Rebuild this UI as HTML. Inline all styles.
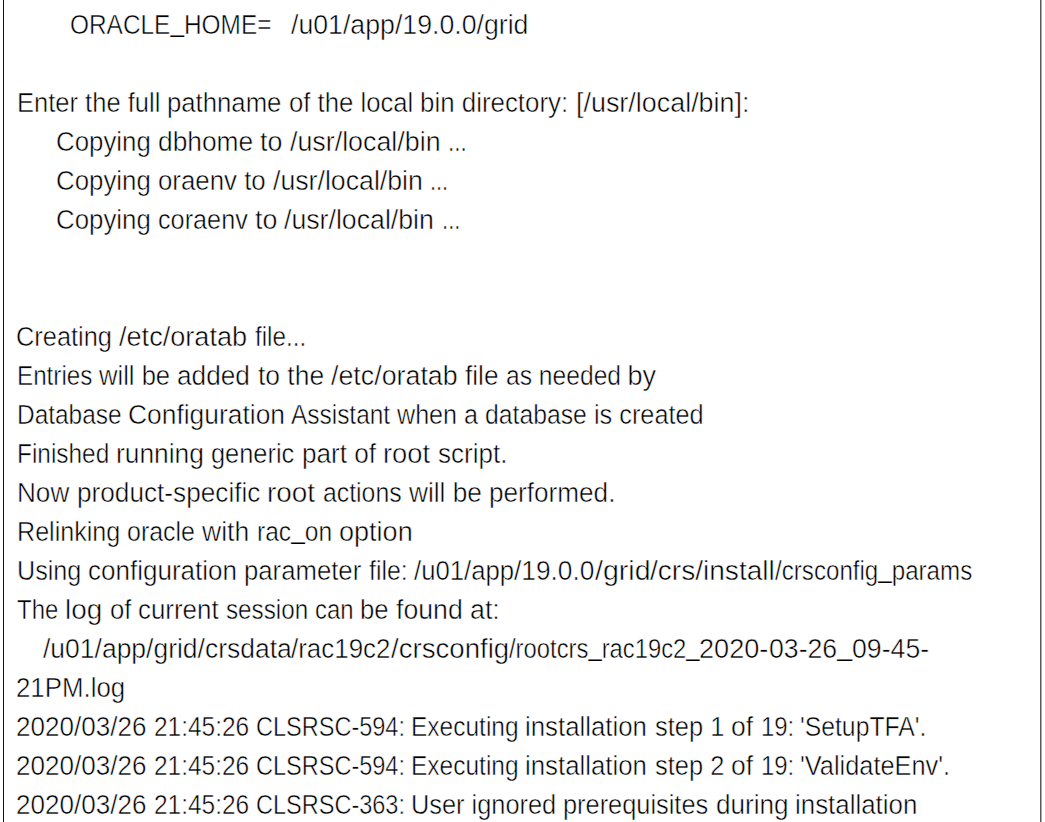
<!DOCTYPE html>
<html><head><meta charset="utf-8"><style>
html,body{margin:0;padding:0;background:#fff;width:1045px;height:822px;overflow:hidden}
body{position:relative;font-family:"Liberation Sans",sans-serif;color:#000;}
span.u{-webkit-text-stroke:0.25px #fff;position:relative;top:-2.5px}
.l{position:absolute;white-space:pre;-webkit-text-stroke:0.5px #fff;font-size:27.0px;line-height:27.0px;transform-origin:0 0;left:0;top:0}
.bl{position:absolute;left:3px;top:0;width:1px;height:822px;background:#111}
.br{position:absolute;left:1040px;top:0;width:1px;height:822px;background:#5a5a5a;box-shadow:1px 0 0 #aaa}
</style></head><body>
<div class="bl"></div><div class="br"></div>
<div class="l" style="left:69.59px;top:11.50px;transform:scaleX(0.9040)">ORACLE<span class="u">_</span>HOME=   </div>
<div class="l" style="left:291.31px;top:11.50px;transform:scaleX(0.9886)">/u01/app/19.0.0/grid</div>
<div class="l" style="left:16.91px;top:89.50px;transform:scaleX(0.9454)">Enter the full </div>
<div class="l" style="left:167.29px;top:89.50px;transform:scaleX(0.9527)">pathname </div>
<div class="l" style="left:288.85px;top:89.50px;transform:scaleX(0.9519)">of the local </div>
<div class="l" style="left:420.28px;top:89.50px;transform:scaleX(0.9588)">bin directory: </div>
<div class="l" style="left:575.61px;top:89.50px;transform:scaleX(0.9964)">[/usr/local/bin]:</div>
<div class="l" style="left:55.79px;top:128.50px;transform:scaleX(0.9566)">Copying </div>
<div class="l" style="left:157.72px;top:128.50px;transform:scaleX(0.9755)">dbhome </div>
<div class="l" style="left:260.21px;top:128.50px;transform:scaleX(0.9923)">to </div>
<div class="l" style="left:290.01px;top:128.50px;transform:scaleX(0.9933)">/usr/local/bin </div>
<div class="l" style="left:448.49px;top:128.50px;transform:scaleX(0.8353)">...</div>
<div class="l" style="left:55.79px;top:167.50px;transform:scaleX(0.9566)">Copying </div>
<div class="l" style="left:157.74px;top:167.50px;transform:scaleX(0.9569)">oraenv to </div>
<div class="l" style="left:272.61px;top:167.50px;transform:scaleX(0.9890)">/usr/local/bin </div>
<div class="l" style="left:430.48px;top:167.50px;transform:scaleX(0.8059)">...</div>
<div class="l" style="left:55.79px;top:206.50px;transform:scaleX(0.9566)">Copying </div>
<div class="l" style="left:157.77px;top:206.50px;transform:scaleX(0.9347)">coraenv </div>
<div class="l" style="left:254.51px;top:206.50px;transform:scaleX(0.9923)">to </div>
<div class="l" style="left:284.31px;top:206.50px;transform:scaleX(0.9890)">/usr/local/bin </div>
<div class="l" style="left:442.15px;top:206.50px;transform:scaleX(0.8176)">...</div>
<div class="l" style="left:16.12px;top:323.50px;transform:scaleX(0.9396)">Creating </div>
<div class="l" style="left:119.00px;top:323.50px;transform:scaleX(1.0037)">/etc/oratab </div>
<div class="l" style="left:254.70px;top:323.50px;transform:scaleX(0.8962)">file...</div>
<div class="l" style="left:17.21px;top:362.50px;transform:scaleX(0.8968)">Entries </div>
<div class="l" style="left:99.25px;top:362.50px;transform:scaleX(0.9475)">will be </div>
<div class="l" style="left:177.43px;top:362.50px;transform:scaleX(0.9698)">added </div>
<div class="l" style="left:257.52px;top:362.50px;transform:scaleX(0.9779)">to the </div>
<div class="l" style="left:330.91px;top:362.50px;transform:scaleX(0.9926)">/etc/oratab </div>
<div class="l" style="left:465.03px;top:362.50px;transform:scaleX(0.9707)">file </div>
<div class="l" style="left:505.89px;top:362.50px;transform:scaleX(0.9122)">as needed </div>
<div class="l" style="left:627.60px;top:362.50px;transform:scaleX(1.0000)">by</div>
<div class="l" style="left:17.19px;top:401.50px;transform:scaleX(0.9050)">Database </div>
<div class="l" style="left:128.44px;top:401.50px;transform:scaleX(0.9775)">Configuration </div>
<div class="l" style="left:291.40px;top:401.50px;transform:scaleX(0.9048)">Assistant </div>
<div class="l" style="left:397.27px;top:401.50px;transform:scaleX(0.9304)">when a </div>
<div class="l" style="left:485.28px;top:401.50px;transform:scaleX(0.9163)">database </div>
<div class="l" style="left:593.93px;top:401.50px;transform:scaleX(0.9363)">is created</div>
<div class="l" style="left:17.19px;top:440.50px;transform:scaleX(0.9036)">Finished </div>
<div class="l" style="left:116.05px;top:440.50px;transform:scaleX(0.9764)">running </div>
<div class="l" style="left:211.36px;top:440.50px;transform:scaleX(0.9406)">generic </div>
<div class="l" style="left:301.66px;top:440.50px;transform:scaleX(0.9685)">part of </div>
<div class="l" style="left:382.98px;top:440.50px;transform:scaleX(1.0107)">root </div>
<div class="l" style="left:437.64px;top:440.50px;transform:scaleX(0.9632)">script.</div>
<div class="l" style="left:17.07px;top:479.50px;transform:scaleX(0.9672)">Now </div>
<div class="l" style="left:76.56px;top:479.50px;transform:scaleX(0.9700)">product-specific </div>
<div class="l" style="left:267.13px;top:479.50px;transform:scaleX(1.0334)">root </div>
<div class="l" style="left:323.08px;top:479.50px;transform:scaleX(0.9187)">actions </div>
<div class="l" style="left:408.53px;top:479.50px;transform:scaleX(0.9721)">will be </div>
<div class="l" style="left:488.76px;top:479.50px;transform:scaleX(0.9683)">performed.</div>
<div class="l" style="left:17.14px;top:518.50px;transform:scaleX(0.9297)">Relinking </div>
<div class="l" style="left:127.38px;top:518.50px;transform:scaleX(0.9242)">oracle </div>
<div class="l" style="left:202.22px;top:518.50px;transform:scaleX(0.9818)">with </div>
<div class="l" style="left:256.88px;top:518.50px;transform:scaleX(0.9103)">rac<span class="u">_</span>on </div>
<div class="l" style="left:338.80px;top:518.50px;transform:scaleX(1.0014)">option</div>
<div class="l" style="left:16.84px;top:557.50px;transform:scaleX(0.9321)">Using </div>
<div class="l" style="left:88.14px;top:557.50px;transform:scaleX(0.9638)">configuration </div>
<div class="l" style="left:244.40px;top:557.50px;transform:scaleX(0.9524)">parameter </div>
<div class="l" style="left:368.78px;top:557.50px;transform:scaleX(0.9206)">file: </div>
<div class="l" style="left:414.35px;top:557.50px;transform:scaleX(0.9523)">/u01/app</div>
<div class="l" style="left:514.43px;top:557.50px;transform:scaleX(0.9736)">/19.0.0</div>
<div class="l" style="left:594.74px;top:557.50px;transform:scaleX(1.0565)">/grid</div>
<div class="l" style="left:650.26px;top:557.50px;transform:scaleX(1.0397)">/crs/install</div>
<div class="l" style="left:775.21px;top:557.50px;transform:scaleX(0.8940)">/crsconfig<span class="u">_</span>params</div>
<div class="l" style="left:17.01px;top:596.50px;transform:scaleX(0.8868)">The </div>
<div class="l" style="left:64.63px;top:596.50px;transform:scaleX(1.0342)">log </div>
<div class="l" style="left:109.75px;top:596.50px;transform:scaleX(0.9523)">of </div>
<div class="l" style="left:138.34px;top:596.50px;transform:scaleX(0.9591)">current </div>
<div class="l" style="left:226.20px;top:596.50px;transform:scaleX(0.8974)">session </div>
<div class="l" style="left:315.12px;top:596.50px;transform:scaleX(0.8838)">can </div>
<div class="l" style="left:360.10px;top:596.50px;transform:scaleX(0.9522)">be </div>
<div class="l" style="left:395.81px;top:596.50px;transform:scaleX(0.9883)">found </div>
<div class="l" style="left:470.01px;top:596.50px;transform:scaleX(0.9923)">at:</div>
<div class="l" style="left:42.52px;top:635.50px;transform:scaleX(0.9808)">/u01/app/grid/crsdata</div>
<div class="l" style="left:291.34px;top:635.50px;transform:scaleX(0.9608)">/rac19c2</div>
<div class="l" style="left:390.78px;top:635.50px;transform:scaleX(1.0230)">/crsconfig</div>
<div class="l" style="left:509.12px;top:635.50px;transform:scaleX(0.8819)">/rootcrs<span class="u">_</span>rac19c2<span class="u">_</span></div>
<div class="l" style="left:699.49px;top:635.50px;transform:scaleX(1.0050)">2020-</div>
<div class="l" style="left:768.91px;top:635.50px;transform:scaleX(0.9875)">03-26<span class="u">_</span>09-45-</div>
<div class="l" style="left:15.99px;top:674.50px;transform:scaleX(0.9573)">21PM.log</div>
<div class="l" style="left:15.97px;top:713.50px;transform:scaleX(0.9647)">2020/03/26 </div>
<div class="l" style="left:153.69px;top:713.50px;transform:scaleX(0.9058)">21:45:26 </div>
<div class="l" style="left:255.76px;top:713.50px;transform:scaleX(0.8708)">CLSRSC-594: </div>
<div class="l" style="left:411.19px;top:713.50px;transform:scaleX(0.9074)">Executing </div>
<div class="l" style="left:525.49px;top:713.50px;transform:scaleX(0.9553)">installation </div>
<div class="l" style="left:654.56px;top:713.50px;transform:scaleX(0.9425)">step 1 </div>
<div class="l" style="left:730.92px;top:713.50px;transform:scaleX(0.9829)">of </div>
<div class="l" style="left:760.63px;top:713.50px;transform:scaleX(0.8857)">19: </div>
<div class="l" style="left:800.47px;top:713.50px;transform:scaleX(0.9165)">&#x27;SetupTFA&#x27;.</div>
<div class="l" style="left:15.97px;top:752.50px;transform:scaleX(0.9647)">2020/03/26 </div>
<div class="l" style="left:153.69px;top:752.50px;transform:scaleX(0.9058)">21:45:26 </div>
<div class="l" style="left:255.76px;top:752.50px;transform:scaleX(0.8708)">CLSRSC-594: </div>
<div class="l" style="left:411.19px;top:752.50px;transform:scaleX(0.9074)">Executing </div>
<div class="l" style="left:525.49px;top:752.50px;transform:scaleX(0.9553)">installation </div>
<div class="l" style="left:654.56px;top:752.50px;transform:scaleX(0.9425)">step 2 </div>
<div class="l" style="left:730.92px;top:752.50px;transform:scaleX(0.9829)">of </div>
<div class="l" style="left:760.63px;top:752.50px;transform:scaleX(0.8857)">19: </div>
<div class="l" style="left:800.42px;top:752.50px;transform:scaleX(0.9387)">&#x27;ValidateEnv&#x27;.</div>
<div class="l" style="left:15.97px;top:791.50px;transform:scaleX(0.9647)">2020/03/26 </div>
<div class="l" style="left:153.69px;top:791.50px;transform:scaleX(0.9058)">21:45:26 </div>
<div class="l" style="left:255.76px;top:791.50px;transform:scaleX(0.8708)">CLSRSC-363: </div>
<div class="l" style="left:411.12px;top:791.50px;transform:scaleX(0.9390)">User ignored </div>
<div class="l" style="left:563.32px;top:791.50px;transform:scaleX(0.9392)">prerequisites </div>
<div class="l" style="left:715.53px;top:791.50px;transform:scaleX(0.9669)">during </div>
<div class="l" style="left:795.38px;top:791.50px;transform:scaleX(0.9589)">installation</div>
</body></html>
